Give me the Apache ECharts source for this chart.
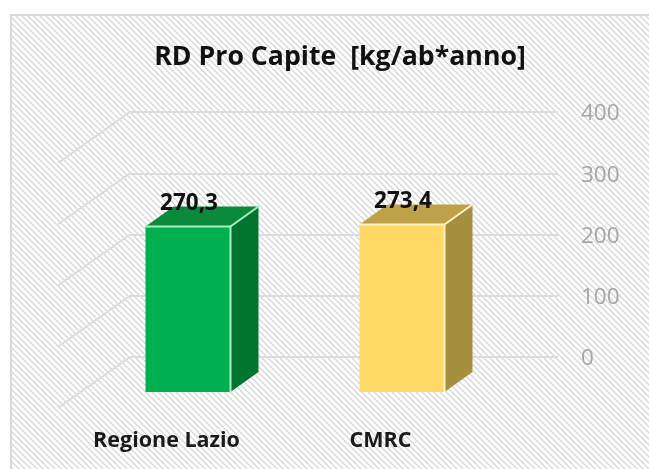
<!DOCTYPE html>
<html><head><meta charset="utf-8">
<style>html,body{margin:0;padding:0;background:#fff}#c{width:649px;height:469px}</style>
<script src="https://cdn.jsdelivr.net/npm/echarts@6/dist/echarts.min.js"></script>
</head><body><div id="c"></div>
<script>
const categories = ['Regione Lazio', 'CMRC'];
const values = [270.3, 273.4];
const valueLabels = ['270,3', '273,4'];
const axisTicks = [0, 100, 200, 300, 400];
const faceColors = [
  {front:'#00b050', side:'#00752f', top:'#0c8a3c', edge:'#a8f0c4'},
  {front:'#ffd966', side:'#a68f3f', top:'#bfa14a', edge:'#fff2c4'}
];

const pc = document.createElement('canvas');
pc.width = 6; pc.height = 6;
const p = pc.getContext('2d');
p.fillStyle = '#ffffff'; p.fillRect(0,0,6,6);
p.fillStyle = '#d8d8d8';
for (let i=0;i<6;i++){ p.fillRect(i,i,1,1); }
p.fillStyle = '#ebebeb';
for (let i=0;i<6;i++){ p.fillRect((i+1)%6,i,1,1); p.fillRect((i+5)%6,i,1,1); }

const chart = echarts.init(document.getElementById('c'), null, {renderer:'canvas'});
chart.setOption({
  animation:false,
  backgroundColor:'#ffffff',
  title:{text:'RD Pro Capite  [kg/ab*anno]',left:335,top:39,textAlign:'center',
    textStyle:{fontFamily:'Open Sans',fontWeight:'bold',fontSize:26.7,color:'#111'}},
  graphic:[{type:'rect',z:-10,silent:true,shape:{x:11,y:15,width:650,height:470},
    style:{fill:{image:pc,repeat:'repeat'},stroke:'#d9d9d9',lineWidth:2}}],
  grid:{left:130,right:91,top:112,bottom:112,containLabel:false},
  xAxis:{type:'category',data:categories,
    axisLine:{show:false},axisTick:{show:false},
    axisLabel:{margin:73,padding:[0,141,0,0],fontFamily:'Open Sans',fontWeight:'bold',fontSize:21.5,color:'#1a1a1a'}},
  yAxis:{type:'value',position:'right',min:axisTicks[0],max:axisTicks[4],interval:100,
    axisLine:{show:false},axisTick:{show:false},
    axisLabel:{margin:23,verticalAlign:'top',lineHeight:4,fontFamily:'Open Sans',fontSize:22.5,color:'#a6a6a6'},
    splitLine:{show:true,lineStyle:{color:'#dcdcdc',width:2}}},
  series:[
    {type:'custom',coordinateSystem:'cartesian2d',silent:true,z:1,
     data:axisTicks.map(v=>[0,v]),
     renderItem:(params,api)=>{
       const y=api.coord([0,api.value(1)])[1];
       const x=params.coordSys.x;
       return {type:'line',shape:{x1:x,y1:y,x2:x-72,y2:y+51},style:{stroke:'#dcdcdc',lineWidth:2}};
     }},
    {type:'custom',coordinateSystem:'cartesian2d',silent:true,z:3,
     data:values.map((v,i)=>[i,v]),
     encode:{x:0,y:1},
     renderItem:(params,api)=>{
       const i=params.dataIndex, c=faceColors[i];
       const top=api.coord([i,api.value(1)]), base=api.coord([i,0]);
       const cx=top[0]-49, dy=35, hw=42.5, dx2=28, dy2=-20;
       const L=cx-hw,R=cx+hw,T=top[1]+dy,B=base[1]+dy;
       return {type:'group',children:[
         {type:'polygon',shape:{points:[[L,T],[R,T],[R+dx2,T+dy2],[L+dx2,T+dy2]]},style:{fill:c.top}},
         {type:'polygon',shape:{points:[[R,T],[R+dx2,T+dy2],[R+dx2,B+dy2],[R,B]]},style:{fill:c.side}},
         {type:'rect',shape:{x:L,y:T,width:R-L,height:B-T},style:{fill:c.front}},
         {type:'polyline',shape:{points:[[L,T],[R,T],[R,B]]},style:{stroke:c.edge,lineWidth:2,fill:null}},
         {type:'line',shape:{x1:R,y1:T,x2:R+dx2,y2:T+dy2},style:{stroke:c.edge,lineWidth:2}},
         {type:'text',style:{text:valueLabels[i],x:cx+1,y:T-23,align:'center',verticalAlign:'middle',
           fontFamily:'Open Sans',fontWeight:'bold',fontSize:22.5,fill:'#111'}}
       ]};
     }}
  ]
});
</script></body></html>
